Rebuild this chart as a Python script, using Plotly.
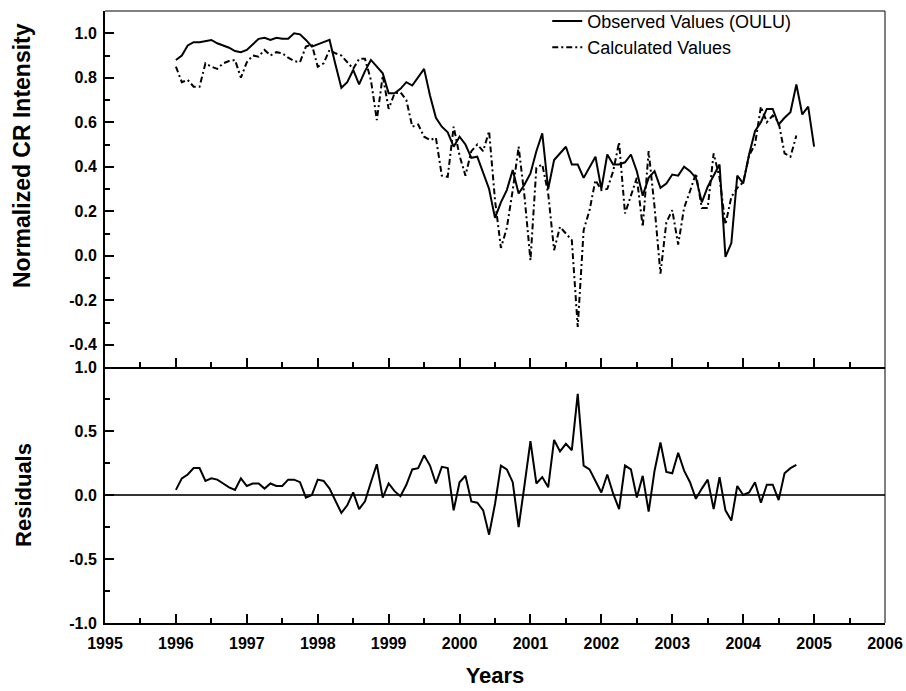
import plotly.graph_objects as go

# Monthly values, first point at 1996.0
start_year = 1996
observed = [
    0.88, 0.90, 0.945, 0.96, 0.96, 0.965, 0.97, 0.955, 0.945, 0.935, 0.92, 0.915,
    0.925, 0.95, 0.975, 0.98, 0.97, 0.98, 0.975, 0.975, 1.0, 0.995, 0.97, 0.94,
    0.95, 0.96, 0.97, 0.86, 0.755, 0.78, 0.835, 0.77, 0.83, 0.88, 0.85, 0.82,
    0.73, 0.73, 0.75, 0.78, 0.765, 0.80, 0.84, 0.72, 0.62, 0.58, 0.555, 0.49,
    0.535, 0.50, 0.44, 0.445, 0.37, 0.30, 0.17, 0.24, 0.295, 0.385, 0.28, 0.32,
    0.37, 0.47, 0.55, 0.30, 0.43, 0.46, 0.49, 0.41, 0.41, 0.35, 0.40, 0.445,
    0.30, 0.455, 0.41, 0.41, 0.42, 0.455, 0.38, 0.27, 0.35, 0.38, 0.305, 0.325,
    0.365, 0.36, 0.40, 0.38, 0.35, 0.24, 0.31, 0.36, 0.41, -0.005, 0.057, 0.36,
    0.325, 0.455, 0.56, 0.60, 0.66, 0.66, 0.59, 0.62, 0.645, 0.77, 0.635, 0.67,
    0.49,
]
calculated = [
    0.85, 0.78, 0.79, 0.76, 0.76, 0.865, 0.85, 0.84, 0.865, 0.875, 0.88, 0.80,
    0.87, 0.90, 0.895, 0.925, 0.90, 0.915, 0.91, 0.89, 0.875, 0.87, 0.94, 0.95,
    0.85, 0.865, 0.925, 0.91, 0.90, 0.87, 0.84, 0.885, 0.885, 0.79, 0.61, 0.81,
    0.66, 0.73, 0.735, 0.70, 0.58, 0.59, 0.535, 0.52, 0.53, 0.36, 0.355, 0.58,
    0.45, 0.36, 0.47, 0.50, 0.47, 0.56, 0.25, 0.035, 0.125, 0.295, 0.49, 0.265,
    -0.02, 0.395, 0.41, 0.28, 0.025, 0.13, 0.10, 0.07, -0.32, 0.115, 0.205, 0.34,
    0.295, 0.30, 0.38, 0.51, 0.19, 0.27, 0.35, 0.13, 0.47, 0.22, -0.08, 0.15,
    0.205, 0.05, 0.215, 0.29, 0.37, 0.215, 0.215, 0.46, 0.35, 0.14, 0.265, 0.305,
    0.33, 0.45, 0.50, 0.67, 0.60, 0.63, 0.60, 0.46, 0.445, 0.54,
]
residuals = [
    0.04, 0.13, 0.16, 0.21, 0.21, 0.11, 0.13, 0.12, 0.09, 0.06, 0.04, 0.13,
    0.07, 0.09, 0.09, 0.05, 0.09, 0.07, 0.07, 0.12, 0.12, 0.10, -0.02, 0.0,
    0.12, 0.11, 0.05, -0.05, -0.14, -0.08, 0.02, -0.11, -0.05, 0.10, 0.24, -0.02,
    0.09, 0.03, -0.01, 0.08, 0.20, 0.21, 0.31, 0.23, 0.09, 0.22, 0.21, -0.12,
    0.10, 0.15, -0.05, -0.06, -0.12, -0.31, -0.07, 0.23, 0.20, 0.10, -0.25, 0.08,
    0.42, 0.09, 0.14, 0.06, 0.43, 0.34, 0.40, 0.35, 0.79, 0.23, 0.20, 0.11,
    0.02, 0.16, 0.01, -0.11, 0.23, 0.20, -0.02, 0.15, -0.13, 0.19, 0.41, 0.18,
    0.17, 0.33, 0.19, 0.10, -0.03, 0.05, 0.12, -0.11, 0.14, -0.12, -0.20, 0.07,
    0.0, 0.02, 0.10, -0.06, 0.08, 0.08, -0.04, 0.17, 0.21, 0.235,
]

x_ticks = list(range(1995, 2007))
x_ticktext = [str(v) for v in x_ticks]
top_ticks = [-0.4, -0.2, 0.0, 0.2, 0.4, 0.6, 0.8, 1.0]
top_ticktext = ["-0.4", "-0.2", "0.0", "0.2", "0.4", "0.6", "0.8", "1.0"]
bot_ticks = [-1.0, -0.5, 0.0, 0.5, 1.0]
bot_ticktext = ["-1.0", "-0.5", "0.0", "0.5", "1.0"]


def months(values):
    return [start_year + i / 12 for i in range(len(values))]


FONT = "Arial, 'Liberation Sans', sans-serif"

fig = go.Figure()
fig.add_trace(go.Scatter(x=months(observed), y=observed, mode="lines",
                         name="Observed Values (OULU)",
                         line=dict(color="black", width=2),
                         xaxis="x2", yaxis="y2"))
fig.add_trace(go.Scatter(x=months(calculated), y=calculated, mode="lines",
                         name="Calculated Values",
                         line=dict(color="black", width=2, dash="6px,3px,2px,3px"),
                         xaxis="x2", yaxis="y2"))
fig.add_trace(go.Scatter(x=months(residuals), y=residuals, mode="lines",
                         showlegend=False,
                         line=dict(color="black", width=2),
                         xaxis="x", yaxis="y"))

split = 256 / 612
tickfont = dict(family=FONT, size=16, color="black", weight="bold")
titlefont = dict(family=FONT, size=22, color="black", weight="bold")

common_x = dict(range=[1995, 2006], tickvals=x_ticks, ticks="inside", ticklen=9,
                tickwidth=2, tickcolor="black", showline=True, linewidth=2,
                linecolor="black", showgrid=False, zeroline=False,
                automargin=False,
                minor=dict(ticks="inside", ticklen=5, tickwidth=1.5,
                           tickcolor="black", dtick=0.5, showgrid=False))

fig.update_layout(
    width=906, height=691,
    margin=dict(l=105, r=21, t=11, b=68, autoexpand=False),
    paper_bgcolor="white", plot_bgcolor="white",
    font=dict(family=FONT, color="black"),
    xaxis=dict(**common_x, anchor="y", ticktext=x_ticktext, tickfont=tickfont,
               ticklabelstandoff=5,
               title=dict(text="Years", font=titlefont, standoff=16)),
    xaxis2=dict(**common_x, anchor="y2", matches="x", showticklabels=False),
    yaxis=dict(domain=[0, split], range=[-1.0, 1.0], tickvals=bot_ticks,
               ticktext=bot_ticktext, tickfont=tickfont, ticks="inside",
               ticklen=9, tickwidth=2, tickcolor="black", showline=True,
               linewidth=2, linecolor="black", showgrid=False,
               zeroline=True, zerolinecolor="#333333", zerolinewidth=1.5,
               ticklabelstandoff=3, automargin=False,
               minor=dict(ticks="inside", ticklen=5, tickwidth=1.5,
                          tickcolor="black", dtick=0.25, showgrid=False),
               title=dict(text="Residuals", font=titlefont, standoff=32)),
    yaxis2=dict(domain=[split, 1], range=[-0.5, 1.1], tickvals=top_ticks,
                ticktext=top_ticktext, tickfont=tickfont, ticks="inside",
                ticklen=9, tickwidth=2, tickcolor="black", showline=True,
                linewidth=2, linecolor="black", showgrid=False, zeroline=False,
                ticklabelstandoff=3, automargin=False,
                minor=dict(ticks="inside", ticklen=5, tickwidth=1.5,
                           tickcolor="black", dtick=0.1, tick0=0, showgrid=False)),
    annotations=[
        dict(text="Normalized CR Intensity", xref="paper", yref="paper",
             x=-83 / 780, y=(623 - 156) / 612, xanchor="center",
             yanchor="middle", textangle=-90, showarrow=False,
             font=dict(family=FONT, size=23, color="black", weight="bold")),
    ],
    legend=dict(x=0.567, y=0.996, xanchor="left", yanchor="top",
                yref="container",
                bgcolor="rgba(0,0,0,0)", borderwidth=0, tracegroupgap=0,
                font=dict(family=FONT, size=18, color="black")),
    shapes=[
        dict(type="line", xref="paper", yref="paper", x0=0, x1=1, y0=1, y1=1,
             line=dict(color="black", width=1)),
        dict(type="line", xref="paper", yref="paper", x0=1, x1=1, y0=0, y1=1,
             line=dict(color="black", width=1)),
    ],
)

fig.write_html("out.html")
